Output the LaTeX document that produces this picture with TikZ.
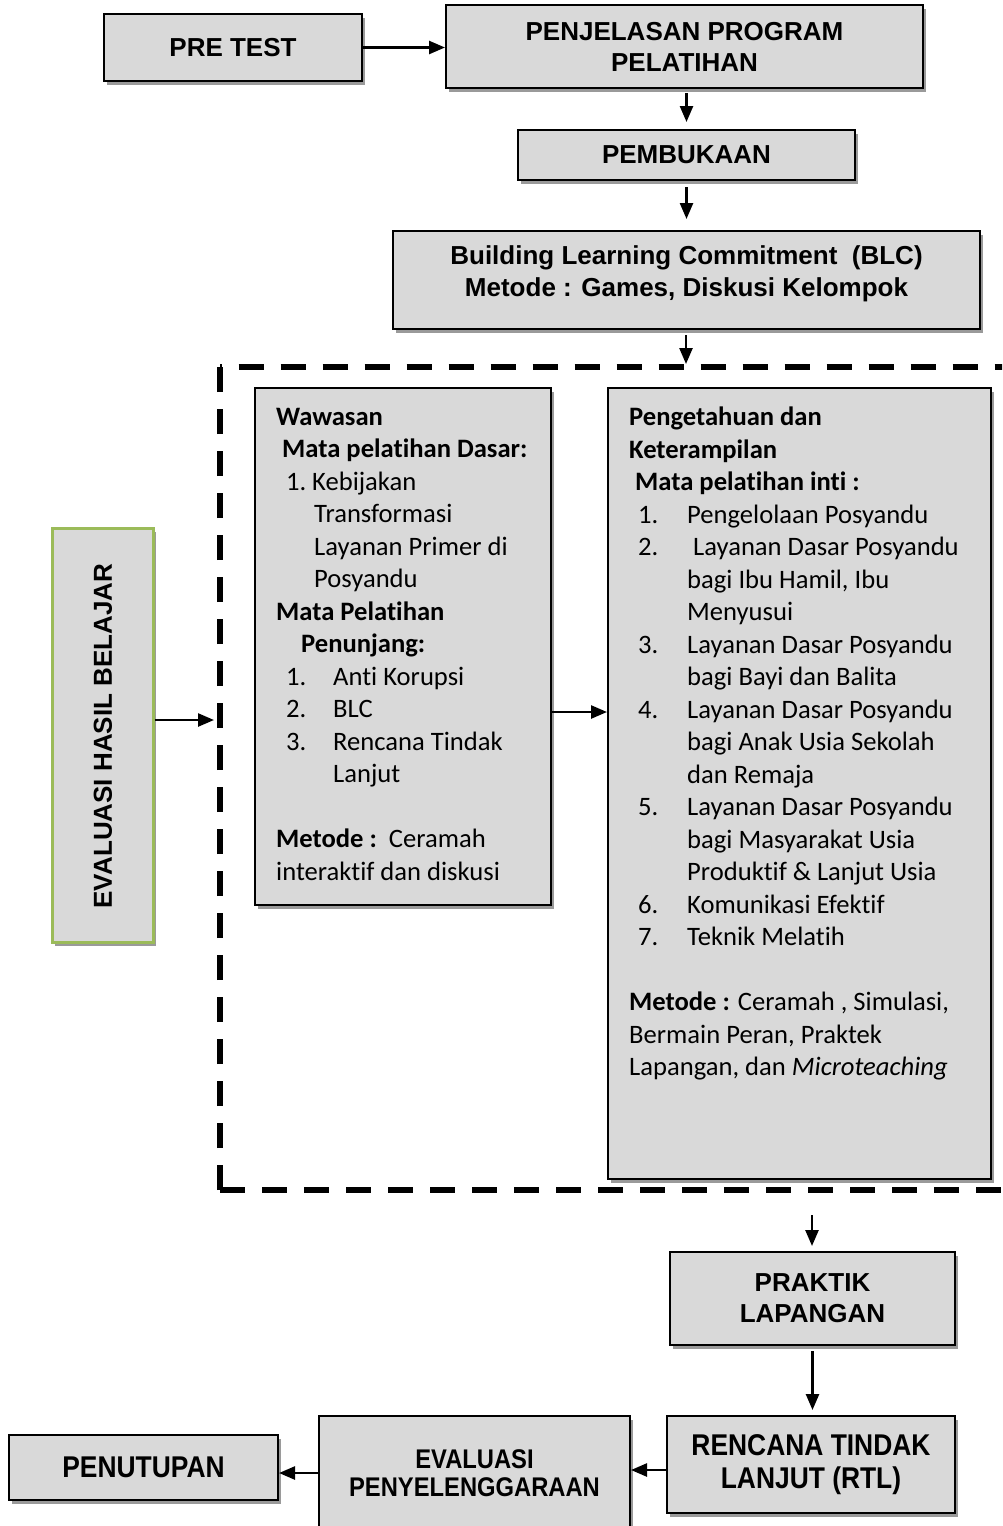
\documentclass[tikz,border=0pt]{standalone}
\usepackage{fontspec}
\setmainfont{Carlito}[Ligatures=NoCommon]
\newfontfamily\hfont{Liberation Sans}
\newfontfamily\nfont{Liberation Sans}[FakeStretch=0.88]
\usetikzlibrary{arrows.meta,shadows}
\definecolor{boxgray}{HTML}{D9D9D9}
\definecolor{shgray}{HTML}{9A9A9A}
\definecolor{evgreen}{HTML}{9BBB59}
\newcommand{\myLi}[1]{\hspace*{10pt}\makebox[47pt][l]{#1}}
\newcommand{\myRi}[1]{\hspace*{9pt}\makebox[49pt][l]{#1}}
\begin{document}
\begin{tikzpicture}[x=1pt,y=-1pt,
  box/.style={draw=black, line width=2pt, fill=boxgray, rectangle, inner sep=0pt, align=center,
    drop shadow={shadow xshift=3pt, shadow yshift=-4pt, fill=shgray, opacity=1}},
  head/.style={font=\hfont\bfseries\fontsize{26}{31}\selectfont},
  narrowhead/.style={font=\nfont\bfseries\fontsize{30}{33}\selectfont},
  narrowsmall/.style={font=\nfont\bfseries\fontsize{27}{28}\selectfont},
  body/.style={font=\fontsize{26.6}{32.5}\selectfont},
  arr/.style={line width=2.5pt, -{Triangle[length=16pt,width=13pt]}},
  frame/.style={line width=6.5pt, dash pattern=on 25pt off 17pt}
]
\useasboundingbox (0,0) rectangle (1002,1526);
\clip (0,0) rectangle (1002,1526);

% top boxes
\node[box, head, minimum width=258pt, minimum height=67pt] (pre) at (233,47.5) {PRE TEST};
\node[box, head, minimum width=477pt, minimum height=83pt] (pen) at (684.5,46.5) {PENJELASAN PROGRAM\\PELATIHAN};
\node[box, head, minimum width=337pt, minimum height=50pt] (pem) at (686.5,155) {PEMBUKAAN};
\node[box, minimum width=587pt, minimum height=98pt] (blc) at (686.5,280) {};
\node[head, align=center, inner sep=0pt, font=\hfont\bfseries\fontsize{26}{32}\selectfont] (blct) at (686.5,274) {Building Learning Commitment\ \ (BLC)\\Metode : Games, Diskusi Kelompok};

% dashed frame
\draw[frame] (220,1190) -- (220,367);
\draw[frame] (220,1190) -- (1030,1190);
\draw[frame, dash phase=23.3pt] (220,367) -- (1030,367);

% left side box
\node[box, draw=evgreen, line width=3pt, minimum width=101pt, minimum height=414pt] (ehb) at (102.5,735) {};
\node[head, rotate=90, inner sep=0pt] (ehbt) at (103,736) {EVALUASI HASIL BELAJAR};

% inner boxes
\node[box, minimum width=296pt, minimum height=517pt] (lb) at (403,646.5) {};
\node[box, minimum width=383pt, minimum height=791pt] (rb) at (799.5,783.5) {};

\node[anchor=north west, inner sep=0pt, align=left, body] (lbt) at (276,408) {%
\textbf{Wawasan}\\
\hspace*{6pt}\textbf{Mata pelatihan Dasar:}\\
\hspace*{10pt}\makebox[26pt][l]{1.}Kebijakan\\
\hspace*{38pt}Transformasi\\
\hspace*{38pt}Layanan Primer di\\
\hspace*{38pt}Posyandu\\
\textbf{Mata Pelatihan}\\
\hspace*{25pt}\textbf{Penunjang:}\\
\myLi{1.}Anti Korupsi\\
\myLi{2.}BLC\\
\myLi{3.}Rencana Tindak\\
\hspace*{57pt}Lanjut\\
\mbox{}\\
\textbf{Metode :}\ \ Ceramah\\
interaktif dan diskusi};

\node[anchor=north west, inner sep=0pt, align=left, body] (rbt) at (629,407) {%
\textbf{Pengetahuan dan}\\
\textbf{Keterampilan}\\
\hspace*{6pt}\textbf{Mata pelatihan inti :}\\
\myRi{1.}Pengelolaan Posyandu\\
\myRi{2.}\hspace*{6pt}Layanan Dasar Posyandu\\
\hspace*{58pt}bagi Ibu Hamil, Ibu\\
\hspace*{58pt}Menyusui\\
\myRi{3.}Layanan Dasar Posyandu\\
\hspace*{58pt}bagi Bayi dan Balita\\
\myRi{4.}Layanan Dasar Posyandu\\
\hspace*{58pt}bagi Anak Usia Sekolah\\
\hspace*{58pt}dan Remaja\\
\myRi{5.}Layanan Dasar Posyandu\\
\hspace*{58pt}bagi Masyarakat Usia\\
\hspace*{58pt}Produktif \& Lanjut Usia\\
\myRi{6.}Komunikasi Efektif\\
\myRi{7.}Teknik Melatih\\
\mbox{}\\
\textbf{Metode :} Ceramah , Simulasi,\\
Bermain Peran, Praktek\\
Lapangan, dan \textit{Microteaching}};

% bottom boxes
\node[box, head, minimum width=285pt, minimum height=93pt] (prak) at (812.5,1298.5) {PRAKTIK\\LAPANGAN};
\node[box, narrowhead, minimum width=288pt, minimum height=97pt] (rtl) at (811,1464.5) {RENCANA TINDAK\\LANJUT (RTL)};
\node[box, narrowsmall, minimum width=311pt, minimum height=114pt] (evp) at (474.5,1473) {EVALUASI\\PENYELENGGARAAN};
\node[box, narrowhead, minimum width=269pt, minimum height=65pt] (pnt) at (143.5,1467.5) {PENUTUPAN};

% connectors
\coordinate (dtop) at (686,364);
\coordinate (y712) at (0,712);
\coordinate (ehbend) at (214,720);
\coordinate (dbot) at (812,1215);
\coordinate (y1470) at (0,1470);

\draw[arr] (pre.east) -- (pre.east -| pen.west);
\draw[arr, shorten <=4pt, shorten >=7pt] (pem.north |- pen.south) -- (pem.north);
\draw[arr, shorten <=6pt, shorten >=11pt] (pem.south) -- (pem.south |- blc.north);
\draw[arr, shorten <=5pt] (blc.south -| dtop) -- (dtop);
\draw[arr] (lb.east |- y712) -- (rb.west |- y712);
\draw[arr] (ehb.east |- ehbend) -- (ehbend);
\draw[arr, shorten >=5pt] (dbot) -- (dbot |- prak.north);
\draw[arr, shorten <=5pt, shorten >=5pt] (prak.south) -- (prak.south |- rtl.north);
\draw[arr] (rtl.west |- y1470) -- (evp.east |- y1470);
\draw[arr] (evp.west) -- (evp.west -| pnt.east);
\end{tikzpicture}
\end{document}
